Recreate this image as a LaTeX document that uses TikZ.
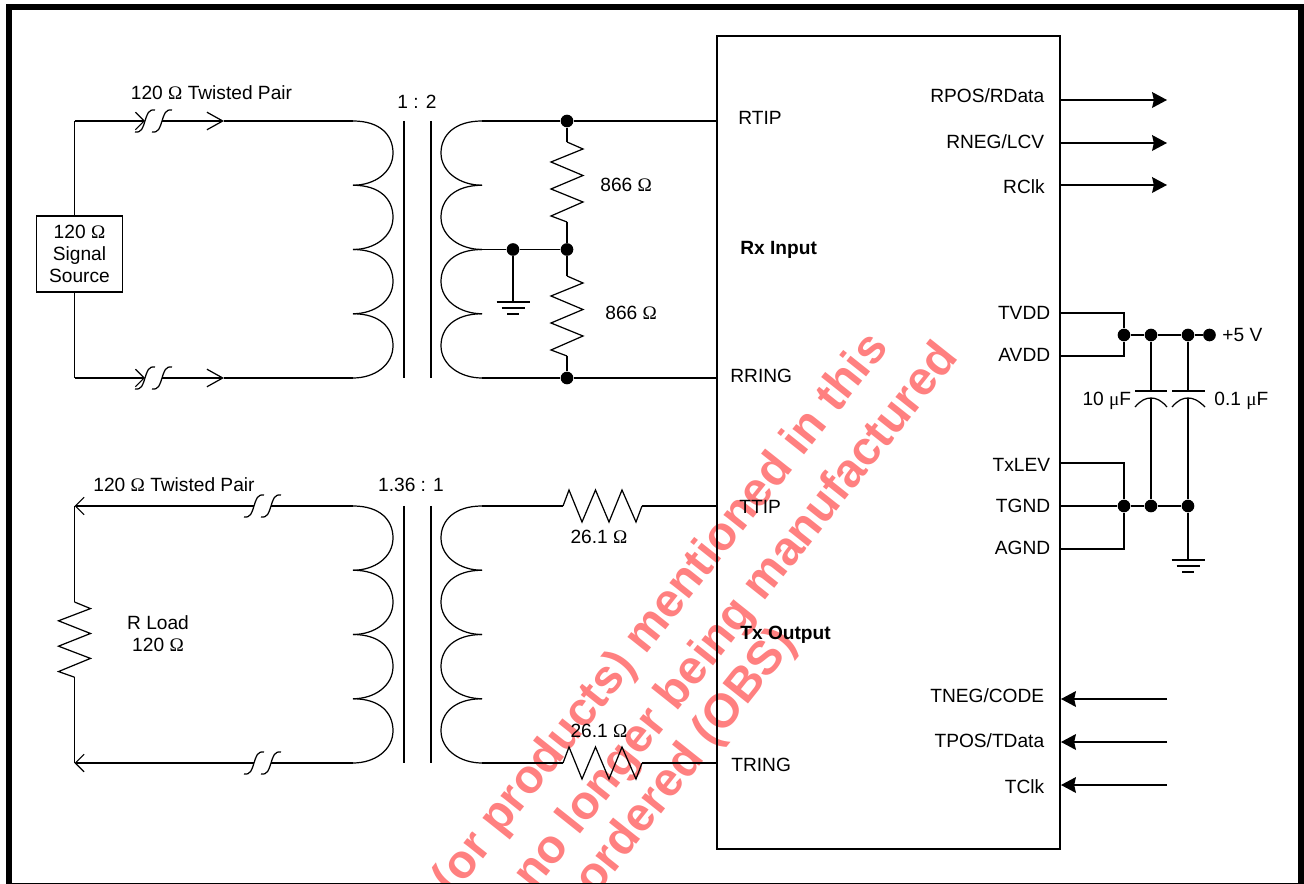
\documentclass[tikz,border=0pt]{standalone}
\usepackage{fontspec}
\setmainfont{Liberation Sans}
\newfontfamily\symfont{Liberation Serif}
\usetikzlibrary{arrows.meta}
\newcommand{\ohmsym}{{\symfont Ω}}
\newcommand{\microsym}{{\symfont μ}}
\tikzset{
	lab/.style={font=\fontsize{10.9}{12.5}\selectfont,inner sep=0pt},
	labb/.style={font=\fontsize{10.9}{12.5}\selectfont\bfseries,inner sep=0pt},
	labl/.style={lab,anchor=west},
	labr/.style={lab,anchor=east},
	wire/.style={line width=0.7pt},
	dot/.style={circle,fill=black,draw=none,minimum size=7.2pt,inner sep=0pt},
	fill arrow/.style={wire,-{Stealth[length=8.5pt,width=9pt,inset=1pt]}},
	barb/.style={wire,-{Straight Barb[length=#1,width=10pt,line width=0.7pt]}},
	stamp/.style={text=red!50,font=\fontsize{27}{27}\selectfont\bfseries,inner sep=0pt,anchor=base west,rotate=51.5},
	brk/.pic={
		\draw[wire] (-10,11) .. controls (-3,12) and (-2,6) .. (0,0) .. controls (2,-6) and (3,-12) .. (10,-11);
		\draw[wire] (7,11) .. controls (14,12) and (15,6) .. (17,0) .. controls (19,-6) and (20,-12) .. (27,-11);
	},
	humpr/.pic={
		\draw[wire] (0,0) .. controls (27,0) and (40,14) .. (40,32) .. controls (40,51) and (22,64.25) .. (0,64.25);
	},
	humpl/.pic={
		\draw[wire] (0,0) .. controls (-27,0) and (-41,14) .. (-41,32) .. controls (-41,51) and (-22,64.25) .. (0,64.25);
	},
	gnd/.pic={
		\draw[wire] (-16.5,0) -- (16.5,0);
		\draw[wire] (-11.5,6) -- (11.5,6);
		\draw[wire] (-6,12) -- (6,12);
	},
	zigv/.pic={
		\draw[wire] (0,0) -- (16,7) -- (-16,20) -- (16,33.5) -- (-16,47) -- (16,60) -- (-16,74) -- (0,80);
	},
	zigh/.pic={
		\draw[wire] (0,0) -- (6,-16) -- (19,16) -- (32.5,-16) -- (46,16) -- (59,-16) -- (73,16) -- (79,0);
	},
}
\begin{document}
\begin{tikzpicture}[x=0.02cm,y=-0.02cm]
	\useasboundingbox (0,0) rectangle (1304,884);

	\begin{scope}
		\clip (0,0) rectangle (1304,882);
		\node[stamp] (stampa) at (453,897) {(or products) mentioned in this};
		\node[stamp] (stampb) at (534,892) {no longer being manufactured};
		\node[stamp] (stampc) at (595,897) {ordered (OBS)};
	\end{scope}

	\fill (6,4) rectangle (1304,10);
	\fill (6,4) rectangle (12,884);
	\fill (1298,4) rectangle (1304,884);
	\fill (6,882.5) rectangle (1304,884);

	\node[draw,wire,minimum width={86*0.02cm},minimum height={76*0.02cm},lab,align=center] (sigsrc) at (79.5,254) {120 \ohmsym\\[0pt]Signal\\[0pt]Source};
	\node[draw,wire,minimum width={343*0.02cm},minimum height={813*0.02cm},inner sep=0pt] (icbox) at (888.5,442.5) {};

	\foreach \top in {121,506}{
		\foreach \k in {0,...,3}{
			\pic at (353,{\top+\k*64.25}) {humpr};
			\pic at (482,{\top+\k*64.25}) {humpl};
		}
		\draw[wire] (404,\top) -- (404,\top+257);
		\draw[wire] (431,\top) -- (431,\top+257);
	}

	\coordinate (pritop) at (353,121);
	\coordinate (pribot) at (353,378);
	\coordinate (sectop) at (482,121);
	\coordinate (secmid) at (482,249.5);
	\coordinate (secbot) at (482,378);
	\coordinate (rtip) at (717,121);
	\coordinate (rring) at (717,378);
	\coordinate (srccorna) at (74.5,121);
	\coordinate (srccornb) at (74.5,378);
	\coordinate (brka) at (145,121);
	\coordinate (brkb) at (162,121);
	\coordinate (brkc) at (145,378);
	\coordinate (brkd) at (162,378);
	\coordinate (chevb) at (224,121);
	\coordinate (chevd) at (224,378);

	\node[dot] (jtop) at (567,121) {};
	\node[dot] (jmid) at (567,249.5) {};
	\node[dot] (jgnd) at (513,249.5) {};
	\node[dot] (jbot) at (567,378) {};
	\coordinate (zaa) at (567,142);
	\coordinate (zab) at (567,222);
	\coordinate (zba) at (567,276);
	\coordinate (zbb) at (567,356);
	\coordinate (gnda) at (513,302);

	\draw[wire] (sigsrc.north -| srccorna) -- (srccorna);
	\draw[barb=5pt] (srccorna) -- (brka);
	\draw[barb=9pt] (brkb) -- (chevb);
	\draw[wire] (chevb) -- (pritop);
	\pic at (brka) {brk};
	\draw[wire] (sigsrc.south -| srccornb) -- (srccornb);
	\draw[barb=5pt] (srccornb) -- (brkc);
	\draw[barb=9pt] (brkd) -- (chevd);
	\draw[wire] (chevd) -- (pribot);
	\pic at (brkc) {brk};

	\draw[wire] (sectop) -- (jtop) -- (rtip);
	\draw[wire] (secbot) -- (jbot) -- (rring);
	\draw[wire] (secmid) -- (jgnd) -- (jmid);
	\draw[wire] (jgnd) -- (gnda);
	\pic at (gnda) {gnd};
	\draw[wire] (jtop) -- (zaa);
	\pic at (zaa) {zigv};
	\draw[wire] (zab) -- (jmid) -- (zba);
	\pic at (zba) {zigv};
	\draw[wire] (zbb) -- (jbot);

	\coordinate (prilow) at (353,506);
	\coordinate (prilowb) at (353,763);
	\coordinate (seclow) at (482,506);
	\coordinate (seclowb) at (482,763);
	\coordinate (ttip) at (717,506);
	\coordinate (tring) at (717,763);
	\coordinate (brke) at (271,506);
	\coordinate (brkf) at (254,506);
	\coordinate (brkg) at (271,763);
	\coordinate (brkh) at (254,763);
	\coordinate (loada) at (74.5,506);
	\coordinate (loadb) at (74.5,763);
	\coordinate (zca) at (74.5,602);
	\coordinate (zcb) at (74.5,677);
	\coordinate (zda) at (563,506);
	\coordinate (zdb) at (642,506);
	\coordinate (zea) at (563,763);
	\coordinate (zeb) at (642,763);

	\draw[wire] (prilow) -- (brke);
	\draw[wire] (prilowb) -- (brkg);
	\pic at (brkf) {brk};
	\pic at (brkh) {brk};
	\draw[barb=5pt] (brkf) -- (loada);
	\draw[barb=5pt] (brkh) -- (loadb);
	\draw[wire] (loada) -- (zca);
	\pic[yscale=0.94] at (zca) {zigv};
	\draw[wire] (zcb) -- (loadb);
	\draw[wire] (seclow) -- (zda);
	\pic at (zda) {zigh};
	\draw[wire] (zdb) -- (ttip);
	\draw[wire] (seclowb) -- (zea);
	\pic at (zea) {zigh};
	\draw[wire] (zeb) -- (tring);

	\foreach \y in {100,143,185}{
		\draw[fill arrow] (1060,\y) -- (1167,\y);
	}
	\foreach \y in {699,742,785}{
		\draw[fill arrow] (1167,\y) -- (1061,\y);
	}

	\coordinate (tvdd) at (1060,313);
	\coordinate (avdd) at (1060,356);
	\coordinate (txlev) at (1060,463);
	\coordinate (tgnd) at (1060,506);
	\coordinate (agnd) at (1060,549);
	\node[dot] (ja) at (1124,335) {};
	\node[dot] (jb) at (1151,335) {};
	\node[dot] (jc) at (1188,335) {};
	\node[dot] (jv) at (1209.5,335) {};
	\node[dot] (jd) at (1124,506) {};
	\node[dot] (je) at (1151,506) {};
	\node[dot] (jf) at (1188,506) {};
	\coordinate (cata) at (1151,391);
	\coordinate (catb) at (1151,398);
	\coordinate (cbta) at (1188,391);
	\coordinate (cbtb) at (1188,398);
	\coordinate (gndb) at (1188,560);

	\draw[wire] (tvdd) -| (ja);
	\draw[wire] (avdd) -| (ja);
	\draw[wire] (ja) -- (jb) -- (jc) -- (jv);
	\draw[wire] (txlev) -| (jd);
	\draw[wire] (agnd) -| (jd);
	\draw[wire] (tgnd) -- (jd) -- (je) -- (jf);
	\draw[wire] (jb) -- (cata);
	\draw[wire] (jc) -- (cbta);
	\draw[wire] (catb) -- (je);
	\draw[wire] (cbtb) -- (jf) -- (gndb);
	\draw[wire] (1135,391) -- (1167,391);
	\draw[wire] (1172,391) -- (1205,391);
	\draw[wire] (1135,407) .. controls (1141,400) and (1146,398) .. (catb) .. controls (1156,398) and (1161,400) .. (1167,407);
	\draw[wire] (1172,407) .. controls (1178,400) and (1183,398) .. (cbtb) .. controls (1193,398) and (1198,400) .. (1205,407);
	\pic at (gndb) {gnd};

	\node[lab] (twpa) at (211.5,92.5) {120 \ohmsym\ Twisted Pair};
	\node[lab] (twpb) at (174,484.5) {120 \ohmsym\ Twisted Pair};
	\node[lab] (ratioa) at (417,102) {1 : 2};
	\node[lab] (ratiob) at (411,485) {1.36 : 1};
	\node[lab,align=center] (rload) at (158,633.5) {R Load\\[0pt]120 \ohmsym};
	\node[labl] (rua) at (600,185) {866 \ohmsym};
	\node[labl] (rub) at (605,313) {866 \ohmsym};
	\node[lab] (ruc) at (599,537) {26.1 \ohmsym};
	\node[lab] (rud) at (599,731) {26.1 \ohmsym};
	\node[labl] (lrtip) at (738,118) {RTIP};
	\node[labb,anchor=west] (lrx) at (740,250) {Rx Input};
	\node[labl] (lrring) at (730,376) {RRING};
	\node[labl] (lttip) at (739,507) {TTIP};
	\node[labb,anchor=west] (ltx) at (740,635) {Tx Output};
	\node[labl] (ltring) at (731,765) {TRING};
	\node[labr] (lrpos) at (1044.5,96) {RPOS/RData};
	\node[labr] (lrneg) at (1044.5,142) {RNEG/LCV};
	\node[labr] (lrclk) at (1045,187) {RClk};
	\node[labr] (ltvdd) at (1050.5,313) {TVDD};
	\node[labr] (lavdd) at (1050.5,355) {AVDD};
	\node[labr] (ltxlev) at (1050.5,465) {TxLEV};
	\node[labr] (ltgnd) at (1050.5,506) {TGND};
	\node[labr] (lagnd) at (1050.5,548) {AGND};
	\node[labr] (ltneg) at (1044.5,696) {TNEG/CODE};
	\node[labr] (ltpos) at (1044.5,741) {TPOS/TData};
	\node[labr] (ltclk) at (1044.5,787) {TClk};
	\node[labl] (lfive) at (1222,335) {+5 V};
	\node[labr] (lca) at (1131.5,401) {10 \microsym F};
	\node[labl] (lcb) at (1214,401) {0.1 \microsym F};
\end{tikzpicture}
\end{document}
